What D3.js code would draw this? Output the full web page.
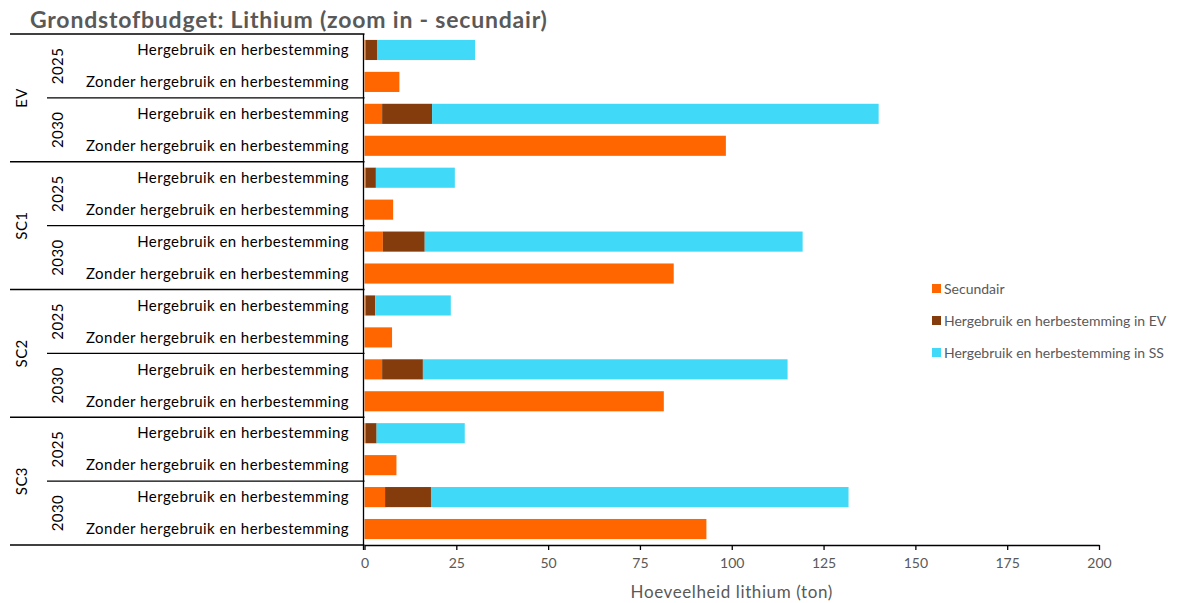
<!DOCTYPE html>
<html><head><meta charset="utf-8">
<script src="https://cdn.jsdelivr.net/npm/d3@7"></script>
<style>body{margin:0;background:#fff}svg{display:block}text{font-family:Lato,"Open Sans",sans-serif}</style>
</head><body><svg id="c" width="1200" height="603"></svg>
<script>
const scenarios = ["EV","SC1","SC2","SC3"];
const years = ["2025","2030"];
const variants = ["Hergebruik en herbestemming","Zonder hergebruik en herbestemming"];
const seriesNames = ["Secundair","Hergebruik en herbestemming in EV","Hergebruik en herbestemming in SS"];
const colors = ["#FF6600","#843C0C","#41D9F8"];
// rows in order: scenario > year > variant
const secundair = [0.4, 9.5, 4.8, 98.4,  0.3, 7.8, 5.0, 84.2,  0.3, 7.5, 4.8, 81.5,  0.4, 8.7, 5.6, 93.1];
const hergEV    = [3.0, 0,   13.6, 0,    2.8, 0,   11.4, 0,    2.6, 0,   11.1, 0,    2.9, 0,   12.5, 0];
const hergSS    = [26.7,0,   121.6,0,    21.5,0,   102.9,0,    20.6,0,   99.3, 0,    24.0,0,   113.7,0];
const xTicks = [0,25,50,75,100,125,150,175,200];
const title = "Grondstofbudget: Lithium (zoom in - secundair)";
const xTitle = "Hoeveelheid lithium (ton)";

const svg = d3.select("#c");
const x0 = 364.5, x1 = 1099, yTop = 34, yBot = 545;
const x = d3.scaleLinear().domain([0,200]).range([x0,x1]);
const rows = [];
scenarios.forEach(s=>years.forEach(y=>variants.forEach(v=>rows.push({s,y,v}))));
rows.forEach((r,i)=>{r.id=i;r.vals=[secundair[i],hergEV[i],hergSS[i]];});
const y = d3.scaleBand().domain(rows.map(r=>r.id)).range([yTop,yBot]).paddingInner(0.37).paddingOuter(0.185);
const grey = "#595959";

// title
svg.append("text").attr("x",30).attr("y",28).attr("font-size",23).attr("font-weight","bold").attr("letter-spacing",0.8).attr("fill",grey).text(title);

// stacked bars
const stackData = rows.map(r=>({id:r.id,a:r.vals[0],b:r.vals[1],c:r.vals[2]}));
const stack = d3.stack().keys(["a","b","c"])(stackData);
svg.append("g").selectAll("g").data(stack).join("g").attr("fill",(d,i)=>colors[i])
  .selectAll("rect").data(d=>d.filter(p=>p[1]-p[0]>0)).join("rect")
  .attr("x",d=>x(d[0])).attr("width",d=>x(d[1])-x(d[0]))
  .attr("y",d=>y(d.data.id)).attr("height",y.bandwidth());

// x axis
const xa = svg.append("g").attr("transform",`translate(0,${yBot})`)
  .call(d3.axisBottom(x).tickValues(xTicks).tickSize(5).tickSizeOuter(0).tickPadding(8));
xa.select(".domain").attr("stroke","#000").attr("stroke-width",1.3);
xa.selectAll(".tick line").attr("stroke","#000").attr("stroke-width",1.3);
xa.selectAll("text").attr("font-size",14).attr("fill",grey).attr("font-family","Lato,sans-serif");
svg.append("text").attr("x",(x0+x1)/2).attr("y",598).attr("text-anchor","middle").attr("font-size",17).attr("letter-spacing",0.6).attr("fill",grey).text(xTitle);

// vertical axis line
svg.append("line").attr("x1",x0-1).attr("x2",x0-1).attr("y1",yTop).attr("y2",yBot+5).attr("stroke","#000").attr("stroke-width",1.3);

// category labels
svg.append("g").selectAll("text").data(rows).join("text")
  .attr("x",349).attr("y",d=>y(d.id)+y.bandwidth()/2).attr("dy","0.35em")
  .attr("text-anchor","end").attr("font-size",15).attr("letter-spacing",0.45).attr("fill","#000").text(d=>d.v);

// hierarchy lines
const rowTop = i => yTop + i*(yBot-yTop)/rows.length;
const lines = svg.append("g").attr("stroke","#000").attr("stroke-width",1.3);
scenarios.forEach((s,si)=>{
  lines.append("line").attr("x1",10).attr("x2",x0).attr("y1",rowTop(si*4)).attr("y2",rowTop(si*4));
  lines.append("line").attr("x1",47).attr("x2",x0).attr("y1",rowTop(si*4+2)).attr("y2",rowTop(si*4+2));
  const cy = (rowTop(si*4)+rowTop(si*4+4))/2;
  svg.append("text").attr("transform",`translate(22,${cy}) rotate(-90)`).attr("text-anchor","middle").attr("dy","0.35em").attr("font-size",15).attr("letter-spacing",0.4).attr("fill","#000").text(s);
  years.forEach((yr,yi)=>{
    const cyy = (rowTop(si*4+yi*2)+rowTop(si*4+yi*2+2))/2;
    svg.append("text").attr("transform",`translate(58,${cyy}) rotate(-90)`).attr("text-anchor","middle").attr("dy","0.35em").attr("font-size",15).attr("letter-spacing",0.4).attr("fill","#000").text(yr);
  });
});
lines.append("line").attr("x1",10).attr("x2",x0).attr("y1",yBot).attr("y2",yBot);

// legend
const lg = svg.append("g").attr("transform","translate(932,289)");
seriesNames.forEach((n,i)=>{
  const g = lg.append("g").attr("transform",`translate(0,${i*32})`);
  g.append("rect").attr("x",0).attr("y",-5).attr("width",9).attr("height",9).attr("fill",colors[i]);
  g.append("text").attr("x",12).attr("y",0).attr("dy","0.35em").attr("font-size",14).attr("fill",grey).text(n);
});
</script></body></html>
